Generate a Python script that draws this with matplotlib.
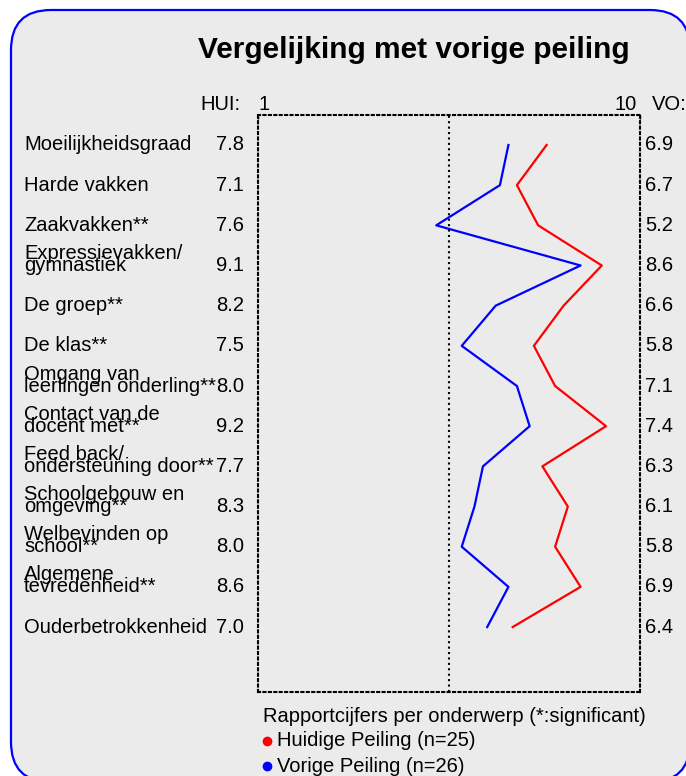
import matplotlib
matplotlib.use("Agg")
import matplotlib.pyplot as plt
from matplotlib.patches import FancyBboxPatch
from matplotlib.lines import Line2D
from matplotlib.transforms import blended_transform_factory, offset_copy

plt.rcParams['font.family'] = ['Liberation Sans', 'DejaVu Sans']

onderwerpen = ["Moeilijkheidsgraad", "Harde vakken", "Zaakvakken**",
               "Expressievakken/\ngymnastiek", "De groep**", "De klas**",
               "Omgang van\nleerlingen onderling**", "Contact van de\ndocent met**",
               "Feed back/\nondersteuning door**", "Schoolgebouw en\nomgeving**",
               "Welbevinden op\nschool**", "Algemene\ntevredenheid**",
               "Ouderbetrokkenheid"]
hui = [7.8, 7.1, 7.6, 9.1, 8.2, 7.5, 8.0, 9.2, 7.7, 8.3, 8.0, 8.6, 7.0]
vo = [6.9, 6.7, 5.2, 8.6, 6.6, 5.8, 7.1, 7.4, 6.3, 6.1, 5.8, 6.9, 6.4]

titel = "Vergelijking met vorige peiling"
onderschrift = "Rapportcijfers per onderwerp (*:significant)"
legenda = ["Huidige Peiling (n=25)", "Vorige Peiling (n=26)"]
kleuren = ["#ff0000", "#0000ff"]

fig = plt.figure(figsize=(6.86, 7.76), dpi=100)

# grey rounded panel with blue border, behind everything
box = FancyBboxPatch((0.11, -0.06), 6.79, 7.72, boxstyle="round,pad=0,rounding_size=0.4",
                     transform=fig.dpi_scale_trans, facecolor="#ebebeb",
                     edgecolor="#0000ff", linewidth=1.6, zorder=-10)
fig.add_artist(box)

ax = fig.add_axes([258/686, 1-692/776, (640-258)/686, (692-115)/776])
ax.set_facecolor("none")

dots = (0, (1, 1.6))
rows = list(range(len(onderwerpen)))
ax.plot(hui, rows, color=kleuren[0], lw=1.6)
ax.plot(vo, rows, color=kleuren[1], lw=1.6)
ax.axvline(5.5, color="black", ls=dots, lw=1.5)

ax.set_xlim(1, 10)
ax.set_ylim(12 + 65/40.2, -30/40.2)
ax.set_xticks([1, 10])
ax.set_xticklabels([])
ax.tick_params(axis="x", top=True, bottom=False, direction="in", length=3, width=1)
ax.set_yticks([])
for s in ax.spines.values():
    s.set_linestyle(dots)
    s.set_linewidth(1.5)

tr = blended_transform_factory(ax.transAxes, ax.transData)
tr_up = offset_copy(tr, fig=fig, y=12, units='dots')
fs = 14.5
for i, lab in enumerate(onderwerpen):
    parts = lab.split("\n")
    if len(parts) == 2:
        ax.text(-0.6126, i, parts[0], transform=tr_up, ha="left", va="center", fontsize=fs)
        ax.text(-0.6126, i, parts[1], transform=tr, ha="left", va="center", fontsize=fs)
    else:
        ax.text(-0.6126, i, lab, transform=tr, ha="left", va="center", fontsize=fs)
    ax.text(-0.037, i, f"{hui[i]:.1f}", transform=tr, ha="right", va="center", fontsize=fs)
    ax.text(1.013, i, f"{vo[i]:.1f}", transform=tr, ha="left", va="center", fontsize=fs)

fig.text(414/686, 1-50/776, titel, ha="center", va="center", fontsize=21.5, fontweight="bold")
fig.text(241/686, 1-104/776, "HUI:", ha="right", va="center", fontsize=fs)
fig.text(258/686, 1-104/776, "1", ha="left", va="center", fontsize=fs)
fig.text(637/686, 1-104/776, "10", ha="right", va="center", fontsize=fs)
fig.text(652/686, 1-104/776, "VO:", ha="left", va="center", fontsize=fs)

fig.text(263/686, 1-716/776, onderschrift, ha="left", va="center", fontsize=fs)
for k, (txt, c) in enumerate(zip(legenda, kleuren)):
    yy = 1 - (741 + 25*k)/776
    fig.add_artist(Line2D([267/686], [yy], marker="o", color=c, markersize=6,
                          transform=fig.transFigure))
    fig.text(277/686, yy, txt, ha="left", va="center", fontsize=fs)

fig.savefig("out.png", dpi=100)
